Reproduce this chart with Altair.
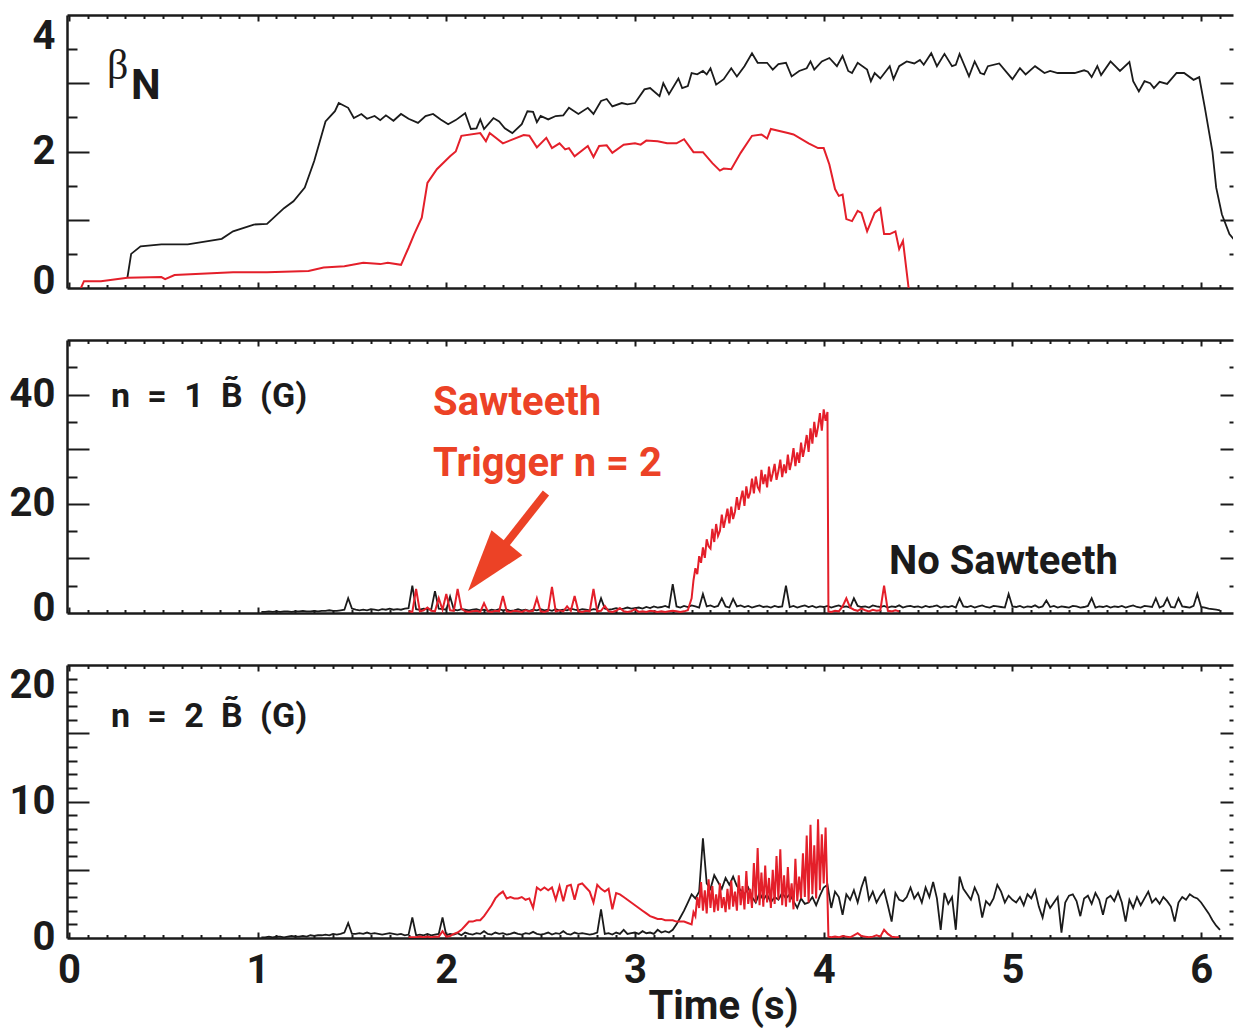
import altair as alt
import pandas as pd

FONT = "Roboto"
BLACK = "#1b1b1b"
RED = "#e41f2a"
ORANGE = "#ec4226"

X_DOMAIN = [-0.01, 6.169]
W = 1166
H = 273

# ---------------- data: beta_N (top panel) ----------------
beta_black_t = [0.31, 0.33, 0.38, 0.49, 0.63, 0.81, 0.87, 0.98, 1.05, 1.14, 1.19, 1.25, 1.30, 1.36, 1.41, 1.43,
                1.48, 1.51, 1.55, 1.58, 1.62, 1.65, 1.68, 1.72, 1.76, 1.80, 1.85, 1.89, 1.93, 1.97, 2.01, 2.05,
                2.10, 2.13, 2.16, 2.18, 2.20, 2.25, 2.28, 2.31, 2.35, 2.40, 2.43, 2.46, 2.48, 2.50, 2.54, 2.58,
                2.62, 2.65, 2.70, 2.75, 2.78, 2.82, 2.85, 2.88, 2.93, 2.96, 3.00, 3.05, 3.08, 3.13, 3.15, 3.18,
                3.23, 3.25, 3.28, 3.30, 3.33, 3.36, 3.38, 3.40, 3.43, 3.47, 3.51, 3.54, 3.58, 3.62, 3.65, 3.70,
                3.73, 3.76, 3.80, 3.83, 3.87, 3.91, 3.93, 3.95, 3.99, 4.03, 4.07, 4.10, 4.13, 4.15, 4.18, 4.23,
                4.25, 4.27, 4.30, 4.35, 4.37, 4.40, 4.44, 4.48, 4.51, 4.53, 4.57, 4.60, 4.64, 4.68, 4.70, 4.72,
                4.77, 4.80, 4.83, 4.85, 4.87, 4.93, 5.00, 5.04, 5.07, 5.12, 5.17, 5.20, 5.24, 5.33, 5.38, 5.40,
                5.42, 5.45, 5.47, 5.52, 5.57, 5.62, 5.64, 5.67, 5.70, 5.73, 5.75, 5.78, 5.82, 5.87, 5.91, 5.96,
                5.99, 6.02, 6.06, 6.08, 6.11, 6.15, 6.18]
beta_black_v = [0.15, 0.50, 0.61, 0.64, 0.64, 0.72, 0.83, 0.93, 0.94, 1.17, 1.27, 1.47, 1.86, 2.44, 2.59, 2.71,
                2.64, 2.49, 2.55, 2.48, 2.52, 2.46, 2.53, 2.45, 2.55, 2.48, 2.42, 2.52, 2.55, 2.47, 2.40, 2.46,
                2.56, 2.33, 2.34, 2.47, 2.33, 2.49, 2.44, 2.34, 2.27, 2.40, 2.59, 2.58, 2.43, 2.52, 2.47, 2.52,
                2.53, 2.64, 2.55, 2.64, 2.55, 2.74, 2.77, 2.66, 2.71, 2.69, 2.71, 2.91, 2.93, 2.81, 3.00, 2.84,
                3.07, 2.93, 2.96, 3.15, 3.13, 3.18, 3.13, 3.22, 2.98, 3.06, 3.22, 3.10, 3.25, 3.44, 3.30, 3.30,
                3.20, 3.28, 3.30, 3.10, 3.18, 3.22, 3.32, 3.20, 3.32, 3.37, 3.25, 3.40, 3.18, 3.15, 3.30, 3.20,
                3.03, 3.15, 3.07, 3.25, 3.06, 3.25, 3.32, 3.29, 3.34, 3.27, 3.44, 3.25, 3.43, 3.25, 3.27, 3.43,
                3.10, 3.32, 3.15, 3.13, 3.25, 3.29, 3.06, 3.22, 3.13, 3.25, 3.15, 3.18, 3.15, 3.15, 3.19, 3.17,
                3.09, 3.25, 3.12, 3.32, 3.18, 3.31, 3.03, 2.88, 3.03, 3.00, 2.93, 3.02, 2.99, 3.15, 3.15, 3.05,
                3.09, 2.64, 2.00, 1.47, 1.08, 0.79, 0.69]

beta_red_t = [0.064, 0.08, 0.17, 0.31, 0.49, 0.51, 0.56, 0.70, 0.87, 1.05, 1.27, 1.35, 1.46, 1.56, 1.65, 1.69,
              1.76, 1.80, 1.83, 1.87, 1.90, 1.95, 2.02, 2.05, 2.08, 2.18, 2.21, 2.23, 2.30, 2.41, 2.44, 2.48,
              2.53, 2.56, 2.60, 2.63, 2.65, 2.68, 2.75, 2.78, 2.81, 2.85, 2.88, 2.94, 3.00, 3.03, 3.06, 3.12,
              3.17, 3.22, 3.26, 3.31, 3.36, 3.41, 3.45, 3.47, 3.51, 3.56, 3.62, 3.67, 3.70, 3.72, 3.81, 3.84,
              3.92, 3.97, 4.00, 4.03, 4.06, 4.08, 4.10, 4.12, 4.15, 4.18, 4.20, 4.23, 4.27, 4.30, 4.32, 4.35,
              4.38, 4.40, 4.42, 4.45]
beta_red_v = [0.0, 0.10, 0.10, 0.15, 0.16, 0.13, 0.19, 0.21, 0.23, 0.23, 0.25, 0.30, 0.32, 0.37, 0.35, 0.37,
              0.34, 0.59, 0.79, 1.03, 1.54, 1.74, 1.93, 2.00, 2.23, 2.27, 2.15, 2.27, 2.12, 2.24, 2.23, 2.06,
              2.20, 2.05, 2.12, 2.03, 2.05, 1.93, 2.08, 1.92, 2.08, 2.09, 1.98, 2.10, 2.12, 2.10, 2.16, 2.15,
              2.12, 2.12, 2.18, 1.99, 1.99, 1.83, 1.72, 1.75, 1.74, 1.98, 2.23, 2.25, 2.19, 2.33, 2.27, 2.25,
              2.12, 2.05, 2.05, 1.81, 1.45, 1.35, 1.37, 1.01, 0.98, 1.13, 1.10, 0.83, 1.10, 1.17, 0.79, 0.79,
              0.83, 0.57, 0.69, 0.0]

# ---------------- data: n = 1 amplitude (middle panel) ----------------
n1_black_t0, n1_black_dt = 1.02, 0.02
n1_black_v = [0.2, 0.2, 0.3, 0.2, 0.3, 0.2, 0.3, 0.3, 0.2, 0.3, 0.3, 0.4, 0.3, 0.3, 0.4, 0.3, 0.4, 0.4, 0.5, 0.4,
              0.4, 0.5, 0.6, 2.7, 0.8,
              0.6, 0.5, 0.6, 0.5, 0.7, 0.6, 0.5, 0.7, 0.6, 0.8, 0.6, 0.7, 0.6, 0.8, 0.9, 5.0, 0.7, 0.6, 0.8, 0.7,
              0.6, 4.0, 0.8, 0.7, 0.6,
              3.0, 0.6, 0.5, 0.7, 0.6, 0.5, 0.6, 0.7, 0.5, 0.6, 0.4, 0.6, 0.5, 0.7, 0.5, 0.6, 0.4, 0.5, 0.7, 0.5,
              0.6, 0.4, 0.6, 0.5, 0.7,
              0.5, 0.6, 0.4, 0.7, 0.5, 0.6, 0.5, 0.8, 0.6, 0.5, 0.7, 0.6, 0.5, 0.7, 0.6, 2.7, 0.8, 0.6, 0.7, 0.9,
              0.7, 0.8, 1.0, 0.8, 0.9,
              1.0, 0.8, 1.1, 0.9, 1.2, 1.0, 1.1, 1.3, 1.0, 5.3, 1.2, 1.0, 1.3, 1.1, 1.4, 1.2, 1.0, 3.5, 1.2, 1.4,
              1.1, 1.3, 2.7, 1.2, 1.0,
              2.6, 1.2, 1.4, 1.1, 1.3, 1.0, 1.2, 1.4, 1.1, 1.2, 1.0, 1.3, 1.1, 1.2, 5.0, 1.1, 1.3, 1.0, 1.2, 1.4,
              1.1, 1.3, 1.0, 1.2, 1.1,
              1.3, 1.0, 1.2, 1.4, 1.1, 1.2, 1.0, 2.7, 1.3, 1.1, 1.2, 1.0, 1.4, 1.2, 1.1, 1.3, 1.0, 1.2, 1.1, 1.4,
              1.0, 1.2, 1.3, 1.1, 1.2,
              1.0, 1.3, 1.1, 1.2, 1.4, 1.0, 1.2, 1.1, 1.3, 1.0, 2.7, 1.2, 1.1, 1.3, 1.0, 1.2, 1.4, 1.1, 1.0, 1.3,
              1.2, 1.1, 1.0, 3.5, 1.2,
              1.1, 1.3, 1.0, 1.2, 1.1, 1.4, 1.0, 1.2, 2.3, 1.1, 1.3, 1.0, 1.2, 1.1, 1.0, 1.3, 1.2, 1.0, 1.1, 1.3,
              2.7, 1.0, 1.2, 1.1, 1.3,
              1.0, 1.2, 1.1, 1.3, 1.0, 1.2, 1.4, 1.1, 1.0, 1.3, 1.2, 1.1, 2.7, 1.0, 1.3, 2.7, 1.1, 1.0, 2.7, 1.2,
              1.1, 1.0, 1.3, 3.5, 1.1, 1.0, 0.8, 0.7, 0.6, 0.5]

n1_red_quiet_t0, n1_red_quiet_dt = 1.80, 0.02
n1_red_quiet_v = [0.3, 0.2, 4.4, 0.3, 0.5, 1.0, 0.4, 0.3, 2.7, 0.6, 3.5, 0.5, 0.4, 4.4, 0.8, 0.3, 0.2, 0.3, 0.4, 0.2,
                  1.8, 0.3, 0.2, 0.4, 0.3,
                  3.1, 0.3, 0.2, 0.4, 0.3, 0.2, 0.5, 0.3, 0.4, 2.7, 0.3, 0.2, 0.4, 4.8, 0.3, 0.5, 0.3, 1.2, 0.4, 3.1,
                  0.3, 0.2, 0.4, 0.3, 4.4,
                  0.3, 0.4, 1.3, 0.3, 0.2, 0.4, 0.9, 0.3, 0.2, 0.3, 0.7, 0.2, 0.3, 0.2, 0.4, 0.3, 0.2, 0.3, 0.2, 0.3,
                  0.4, 0.3, 0.2, 0.3, 0.5]
n1_red_mode_t0, n1_red_mode_dt = 3.30, 0.01
n1_red_mode_v = [2.7, 6.0, 8.2, 7.1, 10.4, 9.2, 12.0, 10.1, 13.5, 12.2, 11.8, 15.4, 13.0, 16.3, 14.1,
                 15.0, 18.0, 15.6, 17.3, 19.1, 16.4, 19.5, 17.2, 18.6, 21.2, 18.9, 20.8, 22.4, 19.6, 23.2,
                 21.0, 22.0, 24.6, 21.9, 25.0, 23.1, 22.4, 26.2, 23.6, 25.4, 23.0, 26.8, 24.1, 25.6, 27.3,
                 24.4, 26.0, 28.1, 24.9, 27.2, 25.6, 29.0, 26.2, 27.8, 30.2, 26.9, 29.4, 27.5, 31.2, 28.6,
                 30.4, 32.6, 29.5, 33.8, 31.0, 35.0, 32.2, 34.1, 36.6, 33.4, 37.3, 35.2, 36.8]
n1_red_crash = (4.025, 0.3)
n1_red_after_t0, n1_red_after_dt = 4.04, 0.02
n1_red_after_v = [0.2, 0.4, 0.3, 1.2, 2.7, 1.0, 0.6, 0.4, 0.8, 0.5, 0.3, 0.6, 0.4, 0.5, 5.0, 0.4, 0.3, 0.5, 0.3]

# ---------------- data: n = 2 amplitude (bottom panel) ----------------
n2_black_t0, n2_black_dt = 1.02, 0.02
n2_black_v = [0.05, 0.05, 0.1, 0.05, 0.1, 0.1, 0.05, 0.1, 0.15, 0.1, 0.1, 0.15, 0.1, 0.2, 0.15, 0.2, 0.2, 0.25,
              0.2, 0.3, 0.25, 0.3, 0.4, 1.1, 0.3,
              0.3, 0.35, 0.3, 0.4, 0.3, 0.35, 0.3, 0.25, 0.3, 0.35, 0.3, 0.25, 0.3, 0.2, 0.25, 1.5, 0.2, 0.25,
              0.2, 0.3, 0.2, 0.25, 0.3, 1.5, 0.2,
              0.3, 0.25, 0.35, 0.2, 0.4, 0.3, 0.25, 0.35, 0.3, 0.5, 0.3, 0.25, 0.4, 0.3, 0.35, 0.25, 0.3, 0.4,
              0.3, 0.25, 0.35, 0.3, 0.45, 0.3, 0.25,
              0.3, 0.4, 0.25, 0.35, 0.3, 0.5, 0.3, 0.25, 0.4, 0.3, 0.35, 0.3, 0.25, 0.3, 0.4, 2.1, 0.3, 0.35,
              0.25, 0.4, 0.3, 0.6, 0.3, 0.35, 0.4,
              0.3, 0.5, 0.35, 0.4, 0.3, 0.6, 0.4, 0.5, 0.4, 0.6, 1.0, 1.5, 2.0, 2.6, 3.2, 2.9, 3.4, 7.3, 4.0, 3.6,
              4.6, 4.1, 3.6, 4.4, 3.9,
              4.5, 3.8, 3.5, 3.2, 3.7, 3.0, 2.6, 3.3, 2.8, 3.2, 2.6, 3.0, 2.8, 3.3, 2.9, 3.2, 2.7, 2.2, 2.9, 2.5,
              2.6, 3.0, 2.4, 3.1, 3.7,
              3.9, 2.2, 3.4, 3.0, 1.7, 3.2, 2.8, 3.5, 2.6, 3.7, 4.5, 2.8, 3.4, 2.6, 3.1, 3.5, 2.4, 1.2, 3.3, 2.8,
              2.7, 3.0, 3.7, 2.9, 3.3,
              2.6, 3.7, 3.0, 4.1, 2.9, 0.6, 3.3, 2.5, 3.0, 0.6, 4.5, 3.6, 3.2, 2.8, 3.7, 3.1, 1.5, 2.7, 2.4, 2.9,
              3.9, 3.4, 2.6, 3.1, 2.8,
              2.6, 3.0, 2.4, 3.2, 2.9, 3.5, 2.3, 1.5, 2.8, 2.2, 2.6, 3.0, 0.4, 2.6, 3.1, 3.2, 2.7, 1.6, 2.9, 3.1,
              2.5, 3.3, 2.8, 1.7, 2.9,
              3.1, 2.7, 3.4, 2.6, 1.2, 2.8, 2.2, 3.0, 2.4, 2.9, 3.4, 2.6, 2.9, 2.5, 3.0, 2.7, 2.3, 1.2, 2.6, 3.0,
              2.8, 3.2, 3.0, 2.9, 2.6, 2.2, 1.8, 1.3, 0.9, 0.6]

n2_red_quiet_t0, n2_red_quiet_dt = 1.80, 0.02
n2_red_quiet_v = [0.05, 0.05, 0.05, 0.1, 0.05, 0.1, 0.05, 0.1, 0.1, 0.5, 0.1, 0.15, 0.3, 0.4, 0.6, 0.9, 1.2,
                  1.2, 1.3, 1.3, 1.6, 2.0, 2.4, 2.9, 3.2,
                  3.4, 2.9, 3.0, 2.9, 2.9, 3.0, 2.8, 2.9, 2.2, 3.7, 3.5, 3.7, 3.5, 3.7, 2.8, 3.8, 2.7, 3.8, 3.9,
                  2.8, 3.9, 4.0, 3.7, 3.4, 2.6,
                  3.9, 3.6, 3.4, 3.6, 2.1, 3.3, 3.2, 3.0, 2.8, 2.6, 2.4, 2.2, 2.0, 1.8, 1.6, 1.5, 1.4, 1.4, 1.3,
                  1.3, 1.3, 1.2, 1.2, 1.2, 1.1]
n2_red_mode_t0, n2_red_mode_dt = 3.30, 0.01
n2_red_mode_v = [1.0, 1.9, 1.6, 3.0, 2.2, 4.1, 2.0, 3.5, 1.8, 4.3, 2.2, 3.8, 1.9, 3.2, 2.0, 4.0, 2.2, 3.0, 1.9,
                 3.6, 2.1, 4.2, 2.3, 3.4, 2.0, 4.6, 2.4, 3.8, 2.1, 4.9, 2.5, 3.6, 2.2, 5.5, 2.6, 6.6, 2.4, 4.8,
                 2.3, 5.3, 2.6, 4.4, 2.2, 5.0, 2.5, 6.0, 2.8, 6.5, 2.4, 4.6, 2.3, 5.2, 2.6, 4.0, 2.1, 5.8, 2.7,
                 4.5, 2.9, 6.2, 3.0, 7.5, 2.6, 8.3, 3.2, 6.8, 2.9, 8.7, 3.5, 7.6, 4.0, 8.1, 3.0]
n2_red_crash = (4.025, 0.1)
n2_red_after_t0, n2_red_after_dt = 4.04, 0.02
n2_red_after_v = [0.05, 0.1, 0.05, 0.15, 0.1, 0.05, 0.2, 0.35, 0.15, 0.1, 0.05, 0.1, 0.2, 0.1, 0.6, 0.3, 0.1,
                  0.05, 0.05]

# ---------------- annotations ----------------
mid_labels = ["n\u2002=\u20021\u2002B\u0303\u2002(G)", "Sawteeth", "Trigger n = 2", "No Sawteeth"]
mid_label_t = [0.223, 1.930, 1.930, 4.346]
mid_label_v = [37.7, 36.3, 25.1, 7.14]
mid_label_size = [34, 40, 40, 40]
mid_label_color = [BLACK, ORANGE, ORANGE, BLACK]

bot_labels = ["n\u2002=\u20022\u2002B\u0303\u2002(G)"]
bot_label_t = [0.223]
bot_label_v = [15.46]

arrow_tail = (2.528, 21.98)
arrow_neck = (2.290, 11.54)
arrow_tip = (2.115, 4.03)

X_TICKS = [round(0.1 * i, 1) for i in range(62)]
X_LABELS = [0, 1, 2, 3, 4, 5, 6]


def grid(t0, dt, n):
    return [round(t0 + dt * i, 3) for i in range(n)]


def frame(t, v):
    return pd.DataFrame({"t": t, "v": v})


def cond(test, major, minor):
    return {"condition": {"test": test, "value": major}, "value": minor}


INT_TEST = "abs(datum.value - round(datum.value)) < 0.001"


def x_edge_axis(orient):
    return alt.Axis(orient=orient, offset=-H, values=X_TICKS, labels=False, title=None, grid=False,
                    domain=True, domainColor=BLACK, domainWidth=2.5,
                    ticks=True, tickColor=BLACK, tickWidth=2, tickSize=cond(INT_TEST, 6, 3.5))


def x_label_axis():
    return alt.Axis(orient="bottom", values=X_LABELS, format="d", grid=False, domain=False, ticks=False,
                    tickSize=0, labelPadding=12, labelFont=FONT, labelFontSize=40, labelFontWeight="bold",
                    labelColor=BLACK, title="Time (s)", titleFont=FONT, titleFontSize=40,
                    titleFontWeight="bold", titleColor=BLACK, titleX=656, titleY=80,
                    titleBaseline="alphabetic", titleAlign="center")


def y_label_axis(values, baseline_expr, offset_expr):
    return alt.Axis(orient="left", values=values, format="d", grid=False, domain=False, ticks=False,
                    tickSize=0, labelPadding=12, labelFont=FONT, labelFontSize=40, labelFontWeight="bold",
                    labelColor=BLACK, labelBaseline={"expr": baseline_expr},
                    labelOffset={"expr": offset_expr}, title=None)


def y_left_ticks(values, test):
    return alt.Axis(orient="right", offset=-W, values=values, labels=False, title=None, grid=False,
                    domain=True, domainColor=BLACK, domainWidth=2.5,
                    ticks=True, tickColor=BLACK, tickWidth=2, tickSize=cond(test, 22, 10))


def y_right_ticks(values, test):
    return alt.Axis(orient="left", offset=-W, values=values, labels=False, title=None, grid=False,
                    domain=False, ticks=True, tickColor=BLACK, tickWidth=2, tickSize=cond(test, 13, 4))


def panel(black_df, red_df, ydom, ylabels, yticks, major_test, base_expr, offset_expr, text_df,
          extras_fn, bottom):
    xs = alt.Scale(domain=X_DOMAIN, nice=False, zero=False)
    ys = alt.Scale(domain=ydom, nice=False, zero=False)
    black = alt.Chart(black_df).mark_line(color=BLACK, strokeWidth=1.8, clip=True).encode(
        x=alt.X("t:Q", scale=xs, axis=x_edge_axis("top")),
        y=alt.Y("v:Q", scale=ys, axis=y_label_axis(ylabels, base_expr, offset_expr)),
    )
    red = alt.Chart(red_df).mark_line(color=RED, strokeWidth=2.0, clip=True).encode(
        x=alt.X("t:Q", scale=xs, axis=x_edge_axis("bottom")),
        y=alt.Y("v:Q", scale=ys, axis=y_left_ticks(yticks, major_test)),
    )
    text = alt.Chart(text_df).mark_text(align="left", baseline="alphabetic", font=FONT,
                                         fontWeight="bold").encode(
        x=alt.X("t:Q", scale=xs, axis=x_label_axis() if bottom else None),
        y=alt.Y("v:Q", scale=ys, axis=y_right_ticks(yticks, major_test)),
        text="label:N",
        color=alt.Color("color:N", scale=None),
        size=alt.Size("size:Q", scale=None),
    )
    layers = [black, red, text] + extras_fn(xs, ys)
    return alt.layer(*layers).resolve_scale(x="shared", y="shared").resolve_axis(
        x="independent", y="independent").properties(width=W, height=H)


# ---- top panel ----
top_black = frame(beta_black_t, beta_black_v)
top_red = frame(beta_red_t, beta_red_v)
top_text = pd.DataFrame({"t": [0.329], "v": [2.77], "label": ["N"], "size": [42], "color": [BLACK]})
beta_text = pd.DataFrame({"t": [0.202], "v": [3.06], "label": ["\u03b2"]})


def top_extras(xs, ys):
    return [alt.Chart(beta_text).mark_text(align="left", baseline="alphabetic", font="Liberation Serif",
                                            fontSize=42, color=BLACK).encode(
        x=alt.X("t:Q", scale=xs, axis=None), y=alt.Y("v:Q", scale=ys, axis=None), text="label:N")]


p1 = panel(top_black, top_red, [0, 4], [0, 2, 4], [0.5 * i for i in range(1, 8)], INT_TEST,
           "datum.value == 4 ? 'top' : (datum.value == 0 ? 'alphabetic' : 'middle')",
           "datum.value == 4 ? 1 : (datum.value == 0 ? 5 : 0)", top_text, top_extras, False)

# ---- middle panel ----
mid_black = frame(grid(n1_black_t0, n1_black_dt, len(n1_black_v)), n1_black_v)
mid_red = frame(grid(n1_red_quiet_t0, n1_red_quiet_dt, len(n1_red_quiet_v))
                + grid(n1_red_mode_t0, n1_red_mode_dt, len(n1_red_mode_v))
                + [n1_red_crash[0]]
                + grid(n1_red_after_t0, n1_red_after_dt, len(n1_red_after_v)),
                n1_red_quiet_v + n1_red_mode_v + [n1_red_crash[1]] + n1_red_after_v)
mid_text = pd.DataFrame({"t": mid_label_t, "v": mid_label_v, "label": mid_labels,
                         "size": mid_label_size, "color": mid_label_color})
arrow_df = pd.DataFrame({"t": [arrow_tail[0]], "v": [arrow_tail[1]],
                         "t2": [arrow_neck[0]], "v2": [arrow_neck[1]]})
head_df = pd.DataFrame({"t": [arrow_tip[0]], "v": [arrow_tip[1]]})


def mid_extras(xs, ys):
    shaft = alt.Chart(arrow_df).mark_rule(color=ORANGE, strokeWidth=8).encode(
        x=alt.X("t:Q", scale=xs, axis=None), y=alt.Y("v:Q", scale=ys, axis=None),
        x2="t2:Q", y2="v2:Q")
    head = alt.Chart(head_df).mark_point(shape="M0,0L0.32,1L-0.32,1Z", size=15376, filled=True,
                                          color=ORANGE, opacity=1, angle=218.9, strokeWidth=0).encode(
        x=alt.X("t:Q", scale=xs, axis=None), y=alt.Y("v:Q", scale=ys, axis=None))
    return [shaft, head]


p2 = panel(mid_black, mid_red, [0, 50], [0, 20, 40], [5 * i for i in range(1, 10)],
           "abs(datum.value % 10) < 0.001",
           "datum.value == 0 ? 'alphabetic' : 'middle'",
           "datum.value == 0 ? 7 : 0", mid_text, mid_extras, False)

# ---- bottom panel ----
bot_black = frame(grid(n2_black_t0, n2_black_dt, len(n2_black_v)), n2_black_v)
bot_red = frame(grid(n2_red_quiet_t0, n2_red_quiet_dt, len(n2_red_quiet_v))
                + grid(n2_red_mode_t0, n2_red_mode_dt, len(n2_red_mode_v))
                + [n2_red_crash[0]]
                + grid(n2_red_after_t0, n2_red_after_dt, len(n2_red_after_v)),
                n2_red_quiet_v + n2_red_mode_v + [n2_red_crash[1]] + n2_red_after_v)
bot_text = pd.DataFrame({"t": bot_label_t, "v": bot_label_v, "label": bot_labels,
                         "size": [34], "color": [BLACK]})

p3 = panel(bot_black, bot_red, [0, 20], [0, 10, 20], list(range(1, 20)),
           "abs(datum.value % 5) < 0.001",
           "datum.value == 20 ? 'top' : (datum.value == 0 ? 'alphabetic' : 'middle')",
           "datum.value == 20 ? 0 : (datum.value == 0 ? 11 : 0)",
           bot_text, lambda xs, ys: [], True)

chart = alt.vconcat(p1, p2, p3, spacing=52, bounds="flush").properties(
    padding={"left": 9, "top": 14, "right": 0, "bottom": 5},
    background="white",
).configure_view(stroke=None)

chart.save("out.html", embed_options={"renderer": "svg", "actions": False})
